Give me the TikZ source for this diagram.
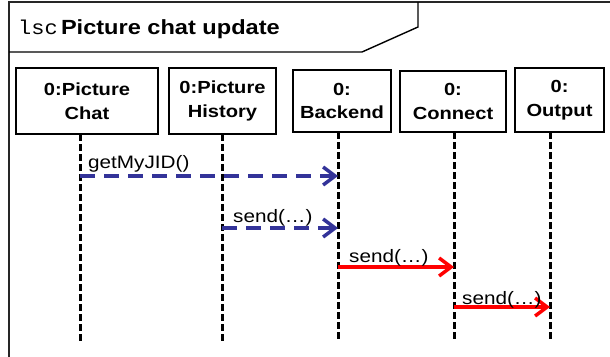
\documentclass[tikz,border=0pt]{standalone}
\usepackage{fontspec}
\setmainfont{Liberation Sans}[FakeStretch=1.15]
\newfontfamily\monof{Liberation Mono}[FakeStretch=1.1]
\usetikzlibrary{arrows.meta}
\definecolor{msgblue}{RGB}{51,51,153}
\definecolor{msgred}{RGB}{255,0,0}
\tikzset{
  objbox/.style={draw=black, line width=1.5pt, inner sep=0pt, align=center,
    font=\fontsize{17.5}{23.5}\selectfont\bfseries},
  lifeline/.style={draw=black, line width=3pt, dash pattern=on 7pt off 3pt},
  asyncmsg/.style={draw=msgblue, line width=3.5pt, dash pattern=on 15pt off 9pt,
    -{Straight Barb[length=12pt,width=18pt,line width=3.5pt]}},
  syncmsg/.style={draw=msgred, line width=3.5pt,
    -{Straight Barb[length=12pt,width=18pt,line width=3.5pt]}},
  msglabel/.style={anchor=base west, inner sep=0pt, font=\fontsize{18}{20}\selectfont},
}
\begin{document}
\begin{tikzpicture}[x=1pt,y=-1pt]
\useasboundingbox (0,0) rectangle (610,356);
% frame
\draw[line width=2.4pt, draw=black!85] (9,357) -- (9,2) -- (611,2);
\draw[line width=1.4pt] (9,52) -- (362,52) -- (418,27) -- (418,2);
\node[anchor=base west, inner sep=0pt] (title) at (18,34)
  {{\monof\fontsize{20}{22}\selectfont lsc} \fontsize{20.5}{22}\selectfont\bfseries Picture chat update};
% objects
\node[objbox, minimum width=142pt, minimum height=66pt] (pc) at (87,101) {0:Picture\\Chat};
\node[objbox, minimum width=107pt, minimum height=66pt] (ph) at (222.5,101) {0:Picture\\History};
\node[objbox, minimum width=98pt, minimum height=62pt] (be) at (342,101) {0:\\Backend};
\node[objbox, minimum width=106pt, minimum height=61pt] (co) at (453,101.5) {0:\\Connect};
\node[objbox, minimum width=89pt, minimum height=64pt] (ou) at (559.5,100) {0:\\Output};
% lifeline ends
\coordinate (pct) at (80,134);  \coordinate (pcb) at (80,342);
\coordinate (pht) at (222,134); \coordinate (phb) at (222,342);
\coordinate (bet) at (338,132); \coordinate (beb) at (338,342);
\coordinate (cot) at (454,132); \coordinate (cob) at (454,342);
\coordinate (out) at (550,132); \coordinate (oub) at (550,342);
\draw[lifeline] (pct) -- (pcb);
\draw[lifeline] (pht) -- (phb);
\draw[lifeline] (bet) -- (beb);
\draw[lifeline] (cot) -- (cob);
\draw[lifeline] (out) -- (oub);
% message points
\coordinate (m1a) at (80,176);  \coordinate (m1b) at (338,176);
\coordinate (m2a) at (222,228); \coordinate (m2b) at (338,228);
\coordinate (m3a) at (338,267); \coordinate (m3b) at (454,267);
\coordinate (m4a) at (454,307); \coordinate (m4b) at (550,307);
\draw[asyncmsg] (m1a) -- (m1b);
\draw[asyncmsg] (m2a) -- (m2b);
\draw[syncmsg] (m3a) -- (m3b);
\draw[syncmsg] (m4a) -- (m4b);
\node[msglabel] (l1) at (88,168) {getMyJID()};
\node[msglabel] (l2) at (233,222) {send(…)};
\node[msglabel] (l3) at (349,262) {send(…)};
\node[msglabel] (l4) at (462,304) {send(…)};
\end{tikzpicture}
\end{document}
